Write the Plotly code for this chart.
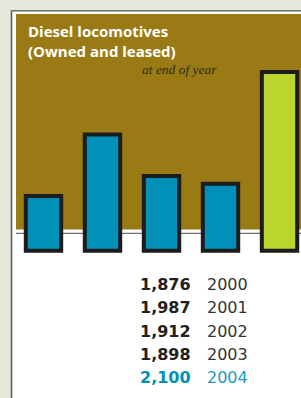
import plotly.graph_objects as go

# ---- data ----
years = ["2000", "2001", "2002", "2003", "2004"]
locomotives = [1876, 1987, 1912, 1898, 2100]
highlight_year = "2004"
title_lines = ["Diesel locomotives", "(Owned and leased)"]
subtitle = "at end of year"

# ---- style ----
W, H = 301, 398
BASE = 1777
BLUE = "#0090b8"
LIME = "#bcd52f"
OLIVE = "#9a7a14"
OUTLINE = "#1c1c1e"
BEIGE = "#e8e9dd"


def px(x):
    return x / W


def py(y):
    return 1 - y / H


bar_colors = [LIME if y == highlight_year else BLUE for y in years]

fig = go.Figure()
fig.add_bar(
    x=years,
    y=[v - BASE for v in locomotives],
    base=BASE,
    width=0.6,
    marker=dict(color=bar_colors, line=dict(color=OUTLINE, width=4)),
    hoverinfo="skip",
)

P = dict(xref="paper", yref="paper", layer="below")
shapes = [
    # white panel
    dict(type="rect", x0=px(12), x1=px(W + 5), y0=py(11), y1=py(H + 5),
         fillcolor="white", line=dict(width=0), **P),
    # frame lines
    dict(type="line", x0=px(11.5), x1=px(11.5), y0=py(10), y1=py(H + 5),
         line=dict(color="#5e5e56", width=1.6), **P),
    dict(type="line", x0=px(11), x1=px(W + 5), y0=py(10.8), y1=py(10.8),
         line=dict(color="#6e6e66", width=1.6), **P),
    # olive header
    dict(type="rect", x0=px(16), x1=px(W + 5), y0=py(14), y1=py(229.5),
         fillcolor=OLIVE, line=dict(width=0), **P),
    # baseline rule
    dict(type="line", x0=px(16), x1=px(W + 5), y0=py(233.3), y1=py(233.3),
         line=dict(color="#4a4a4a", width=1), **P),
]

annotations = [
    dict(x=px(25.5), y=py(41.0), xref="paper", yref="paper",
         xanchor="left", yanchor="middle", align="left", showarrow=False,
         text="<b>" + "<br>".join(title_lines) + "</b>",
         font=dict(family="Open Sans", size=15, color="white")),
    dict(x=px(139.5), y=py(69), xref="paper", yref="paper", xanchor="left", yanchor="middle",
         showarrow=False, text="<i>" + subtitle + "</i>",
         font=dict(family="Liberation Serif", size=13.5, color="#2e2a20")),
]

row0, pitch = 284.6, 23.3
for i, (yr, v) in enumerate(zip(years, locomotives)):
    hl = yr == highlight_year
    ycen = row0 + i * pitch
    annotations.append(dict(
        x=px(193), y=py(ycen), xref="paper", yref="paper", xanchor="right", yanchor="middle",
        showarrow=False, text=f"<b>{v:,}</b>",
        font=dict(family="DejaVu Sans", size=16, color=BLUE if hl else "#231f20")))
    annotations.append(dict(
        x=px(204.5), y=py(ycen), xref="paper", yref="paper", xanchor="left", yanchor="middle",
        showarrow=False, text=yr,
        font=dict(family="DejaVu Sans", size=16, color="#1a9bc0" if hl else "#333333")))

fig.update_layout(
    width=W, height=H,
    margin=dict(l=0, r=0, t=0, b=0),
    paper_bgcolor=BEIGE, plot_bgcolor="rgba(0,0,0,0)",
    showlegend=False,
    xaxis=dict(range=[-0.737, 4.364], visible=False, fixedrange=True),
    yaxis=dict(range=[1510.9, 2230.1], visible=False, fixedrange=True),
    shapes=shapes,
    annotations=annotations,
)

fig.write_html(
    "out.html",
    config={"displayModeBar": False},
    post_script="document.body.style.margin='0';document.body.style.background='" + BEIGE + "';",
)
